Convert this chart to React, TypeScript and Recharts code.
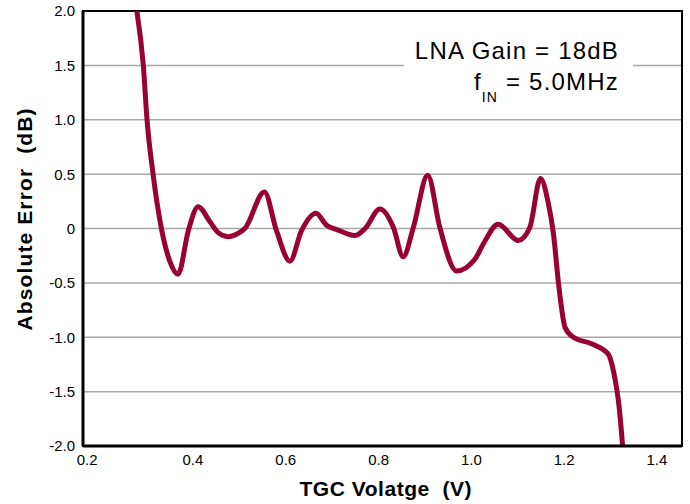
import React from 'react';
import { LineChart, Line, XAxis, YAxis, CartesianGrid, ReferenceArea } from 'recharts';

const FONT = '"Liberation Sans", Arial, Helvetica, sans-serif';

// TGC control voltage (V)
const tgcVoltage = [
  0.265, 0.279, 0.293, 0.301, 0.314, 0.332, 0.350, 0.368, 0.390, 0.411,
  0.437, 0.455, 0.476, 0.495, 0.512, 0.554, 0.580, 0.609, 0.634, 0.665,
  0.688, 0.710, 0.749, 0.771, 0.803, 0.832, 0.853, 0.875, 0.906, 0.932,
  0.968, 1.008, 1.026, 1.058, 1.101, 1.126, 1.149, 1.165, 1.177, 1.188,
  1.202, 1.220, 1.259, 1.295, 1.309, 1.317, 1.326, 1.331,
];

// Absolute gain error (dB)
const absError = [
  2.3, 2.0, 1.5, 1.0, 0.5, 0.0, -0.3, -0.42, -0.02, 0.2,
  0.06, -0.04, -0.075, -0.05, 0.0, 0.335, -0.02, -0.3, -0.02, 0.14,
  0.03, -0.01, -0.065, 0.0, 0.18, 0.01, -0.26, 0.01, 0.49, 0.01,
  -0.39, -0.28, -0.14, 0.04, -0.11, 0.01, 0.46, 0.25, -0.05, -0.51,
  -0.91, -1.0, -1.06, -1.155, -1.37, -1.585, -2.0, -2.3,
];

const xTicks = [0.2, 0.4, 0.6, 0.8, 1.0, 1.2, 1.4];
const yTicks = [-2, -1.5, -1, -0.5, 0, 0.5, 1, 1.5, 2];
const xDomain: [number, number] = [0.163, 1.454];
const yDomain: [number, number] = [-2, 2];

const data = tgcVoltage.map((v, i) => ({ v, e: absError[i] }));

const fmtY = (n: number) => (n === 0 ? '0' : n.toFixed(1));

const XTick = (props: any) => {
  const { x, y, payload, index } = props;
  // first label sits tucked against the frame corner
  const cx = index === 0 ? x - 13 : x;
  return (
    <text x={cx} y={y} dy="0.71em" textAnchor="middle" fontSize={15} fontFamily={FONT} fill="#000">
      {payload.value.toFixed(1)}
    </text>
  );
};

const YTick = (props: any) => {
  const { x, y, payload } = props;
  return (
    <text x={x} y={y} dy="0.36em" textAnchor="end" fontSize={15} fontFamily={FONT} fill="#000">
      {fmtY(payload.value)}
    </text>
  );
};

const XTitle = (props: any) => {
  const vb = props.viewBox;
  return (
    <text
      x={vb.x + vb.width / 2 + 3}
      y={vb.y + 50}
      textAnchor="middle"
      fontSize={21}
      fontWeight="bold"
      fontFamily={FONT}
      fill="#000"
      textLength={172}
      lengthAdjust="spacing"
      style={{ whiteSpace: 'pre' }}
    >
      TGC Volatge  (V)
    </text>
  );
};

const YTitle = (props: any) => {
  const vb = props.viewBox;
  const cx = 32;
  const cy = vb.y + vb.height / 2 - 9;
  return (
    <text
      x={cx}
      y={cy}
      transform={`rotate(-90 ${cx} ${cy})`}
      textAnchor="middle"
      fontSize={21}
      fontWeight="bold"
      fontFamily={FONT}
      fill="#000"
      textLength={222}
      lengthAdjust="spacing"
      style={{ whiteSpace: 'pre' }}
    >
      Absolute Error  (dB)
    </text>
  );
};

export default function App() {
  return (
    <div style={{ position: 'absolute', left: 0, top: 0, width: 690, height: 504, background: '#fff' }}>
      <LineChart width={690} height={504} data={data} margin={{ top: 11, right: 8, bottom: 0, left: 0 }}>
        <CartesianGrid vertical={false} stroke="#a8a8a8" strokeWidth={1.5} />
        <ReferenceArea x1={xDomain[0]} x2={xDomain[1]} y1={yDomain[0]} y2={yDomain[1]} fill="none" stroke="#000" strokeWidth={2} />
        <XAxis
          type="number"
          dataKey="v"
          domain={xDomain}
          ticks={xTicks}
          interval={0}
          allowDataOverflow
          height={58}
          tickLine={false}
          axisLine={{ stroke: '#000', strokeWidth: 3 }}
          tick={<XTick />}
          label={<XTitle />}
        />
        <YAxis
          type="number"
          domain={yDomain}
          ticks={yTicks}
          interval={0}
          allowDataOverflow
          width={83}
          tickLine={false}
          axisLine={{ stroke: '#000', strokeWidth: 3 }}
          tick={<YTick />}
          label={<YTitle />}
        />
        <Line dataKey="e" type="monotone" stroke="#990033" strokeWidth={5} dot={false} isAnimationActive={false} />
      </LineChart>
      <svg width={690} height={504} style={{ position: 'absolute', left: 0, top: 0, pointerEvents: 'none' }}>
        <rect x={404} y={32} width={229} height={74} fill="#fff" />
        <text x={619} y={59} textAnchor="end" fontSize={24} letterSpacing={1.2} fontFamily={FONT} fill="#000">
          LNA Gain = 18dB
        </text>
        <text x={619} y={90} textAnchor="end" fontSize={24} letterSpacing={1.2} fontFamily={FONT} fill="#000">
          f<tspan fontSize={14} dy={12}>IN</tspan><tspan dy={-12}> = 5.0MHz</tspan>
        </text>
      </svg>
    </div>
  );
}
